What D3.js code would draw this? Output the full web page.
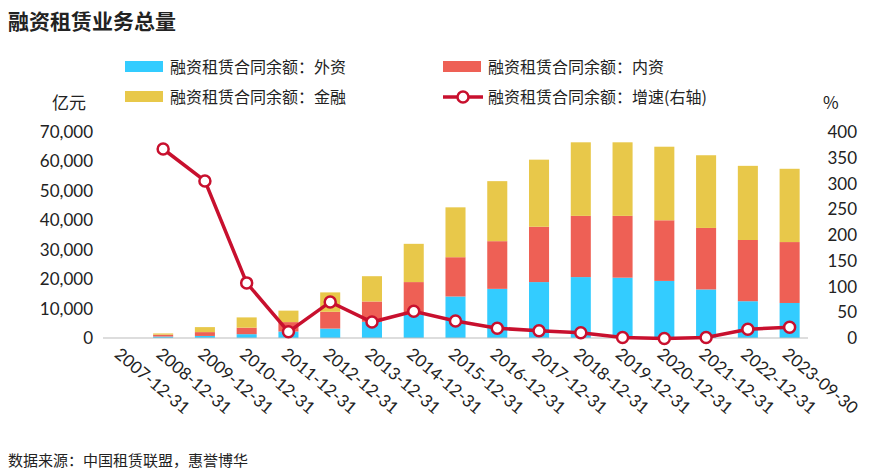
<!DOCTYPE html>
<html><head><meta charset="utf-8">
<script src="https://cdn.jsdelivr.net/npm/d3@7"></script>
<style>body{margin:0;background:#fff;font-family:"Noto Sans CJK SC",Lato,sans-serif;}</style>
</head><body><div id="chart"></div>
<script>
const dates = ["2007-12-31","2008-12-31","2009-12-31","2010-12-31","2011-12-31","2012-12-31","2013-12-31","2014-12-31","2015-12-31","2016-12-31","2017-12-31","2018-12-31","2019-12-31","2020-12-31","2021-12-31","2022-12-31","2023-09-30"];
const waizi = [0,500,700,1300,2200,3200,5500,8000,14100,16700,19000,20700,20500,19400,16500,12500,11900];
const neizi = [0,630,1300,2200,3200,5700,6900,11000,13350,16200,18800,20800,21000,20600,20900,20800,20700];
const jinrong = [0,420,1700,3500,3900,6600,8600,13000,16950,20400,22800,25000,25000,25000,24700,25200,24900];
const growth = [null,367,305,107,12,70,31,52,33,19,14,10,1,-1,1,17,21];
const leftTicks = [0,10000,20000,30000,40000,50000,60000,70000];
const rightTicks = [0,50,100,150,200,250,300,350,400];

const W = 875, H = 475;
const m = {left:103, right:67, top:132, bottom:137};
const svg = d3.select("#chart").append("svg").attr("width",W).attr("height",H);

const x = d3.scaleBand().domain(dates).range([m.left, W-m.right]).paddingInner(0.52).paddingOuter(0.2);
const y = d3.scaleLinear().domain([0,70000]).range([H-m.bottom, m.top]);
const y2 = d3.scaleLinear().domain([0,400]).range([H-m.bottom, m.top]);

svg.append("text").text("融资租赁业务总量").attr("x",8).attr("y",29)
  .attr("font-size",21).attr("font-weight","bold").attr("fill","#222");

const rows = dates.map((d,i)=>({d, w:waizi[i], n:neizi[i], j:jinrong[i]}));
const stack = d3.stack().keys(["w","n","j"])(rows);
const colors = {w:"#33ccff", n:"#ee6055", j:"#e8c84a"};
svg.append("g").selectAll("g").data(stack).join("g").attr("fill",s=>colors[s.key])
  .selectAll("rect").data(s=>s).join("rect")
  .attr("x",d=>x(d.data.d)).attr("width",x.bandwidth())
  .attr("y",d=>y(d[1])).attr("height",d=>y(d[0])-y(d[1]));

svg.append("line").attr("x1",m.left).attr("x2",W-m.right).attr("y1",y(0)).attr("y2",y(0)).attr("stroke","#bbb");

const ax = svg.append("g").attr("font-size",17).attr("fill","#222").attr("font-family","Lato,sans-serif");
ax.selectAll(".l").data(leftTicks).join("text").attr("text-anchor","end")
  .attr("x",m.left-10).attr("y",d=>y(d)+6).text(d3.format(","));
ax.selectAll(".r").data(rightTicks).join("text").attr("text-anchor","end")
  .attr("x",W-18).attr("y",d=>y2(d)+6).text(d=>d);
ax.selectAll(".xl").data(dates).join("text")
  .attr("transform",d=>`translate(${x(d)+x.bandwidth()/2-8},${y(0)+18}) rotate(40)`)
  .attr("text-anchor","start").text(d=>d);

svg.append("text").text("亿元").attr("x",52).attr("y",109).attr("font-size",17).attr("fill","#222");
svg.append("text").text("%").attr("x",823).attr("y",109).attr("font-size",17).attr("fill","#222");

const gd = dates.map((d,i)=>({d,v:growth[i]})).filter(p=>p.v!==null);
const cx = d=>x(d)+x.bandwidth()/2;
svg.append("path").datum(gd).attr("fill","none").attr("stroke","#c8102e").attr("stroke-width",3.5)
  .attr("d",d3.line().x(p=>cx(p.d)).y(p=>y2(p.v)));
svg.append("g").selectAll("circle").data(gd).join("circle")
  .attr("cx",p=>cx(p.d)).attr("cy",p=>y2(p.v)).attr("r",5.5)
  .attr("fill","#fff").attr("stroke","#c8102e").attr("stroke-width",2.5);

const leg = [
  {t:"融资租赁合同余额：外资", c:"#33ccff", x:125, y:73},
  {t:"融资租赁合同余额：内资", c:"#ee6055", x:443, y:73},
  {t:"融资租赁合同余额：金融", c:"#e8c84a", x:125, y:103},
];
const lg = svg.append("g").attr("font-size",16).attr("fill","#222");
leg.forEach(l=>{
  lg.append("rect").attr("x",l.x).attr("y",l.y-12).attr("width",38).attr("height",11).attr("fill",l.c);
  lg.append("text").attr("x",l.x+45).attr("y",l.y).text(l.t);
});
lg.append("line").attr("x1",443).attr("x2",483).attr("y1",97).attr("y2",97).attr("stroke","#c8102e").attr("stroke-width",3.5);
lg.append("circle").attr("cx",463).attr("cy",97).attr("r",5.5).attr("fill","#fff").attr("stroke","#c8102e").attr("stroke-width",2.5);
lg.append("text").attr("x",488).attr("y",103).text("融资租赁合同余额：增速(右轴)");

svg.append("text").text("数据来源：中国租赁联盟，惠誉博华").attr("x",8).attr("y",466).attr("font-size",15).attr("fill","#222");
</script></body></html>
